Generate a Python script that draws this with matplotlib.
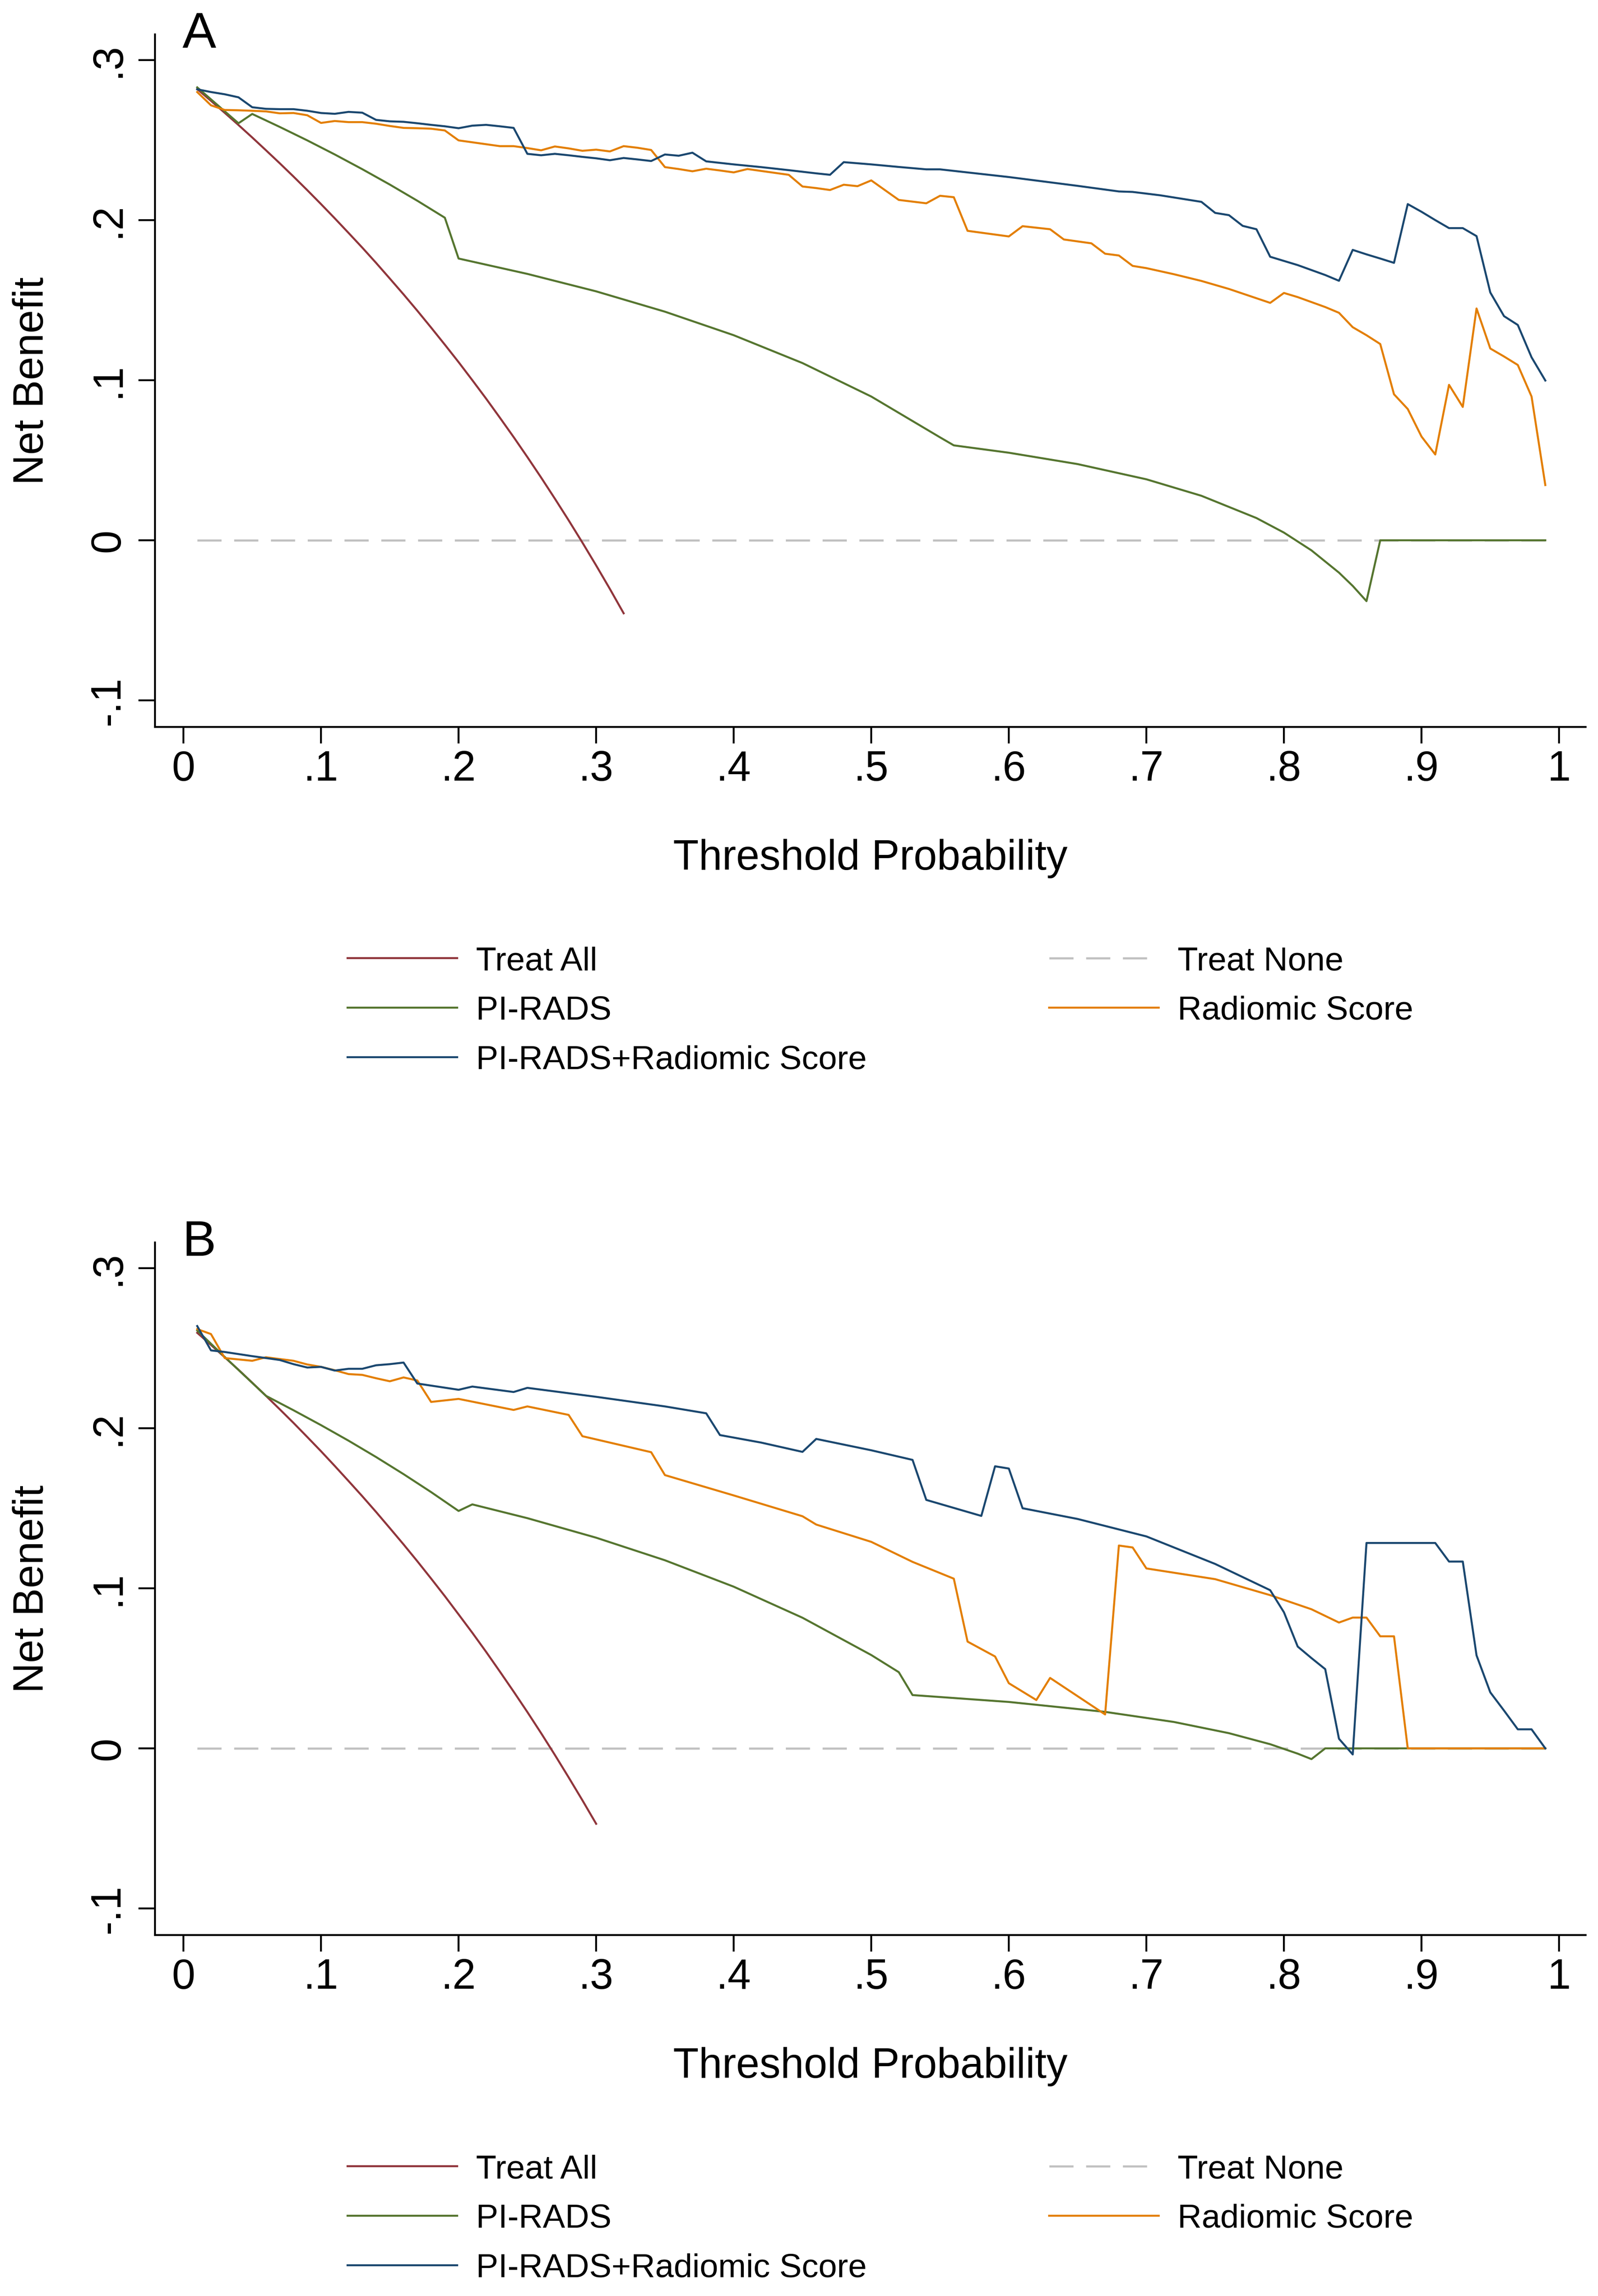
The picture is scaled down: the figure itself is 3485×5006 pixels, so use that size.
import matplotlib
matplotlib.use("Agg")
import matplotlib.pyplot as plt

plt.rcParams['font.family'] = ['Liberation Sans', 'DejaVu Sans']

# ---------------- Panel A data ----------------
a_all_x = [0.01, 0.02, 0.03, 0.04, 0.05, 0.06, 0.07, 0.08, 0.09, 0.10, 0.11, 0.12, 0.13, 0.14, 0.15, 0.16,
           0.17, 0.18, 0.19, 0.20, 0.21, 0.22, 0.23, 0.24, 0.25, 0.26, 0.27, 0.28, 0.29, 0.30, 0.31, 0.32]
a_all_y = [0.2818, 0.2745, 0.2670, 0.2594, 0.2516, 0.2436, 0.2355, 0.2272, 0.2187, 0.2100, 0.2011, 0.1920,
           0.1828, 0.1733, 0.1635, 0.1536, 0.1434, 0.1329, 0.1222, 0.1113, 0.1000, 0.0885, 0.0766, 0.0645,
           0.0520, 0.0392, 0.0260, 0.0125, -0.0014, -0.0157, -0.0304, -0.0456]

none_x = [0.01, 0.99]
none_y = [0.0, 0.0]

a_pi_x = [0.01, 0.04, 0.05, 0.07, 0.09, 0.11, 0.13, 0.15, 0.17, 0.19, 0.20, 0.25, 0.30, 0.35, 0.40, 0.45,
          0.50, 0.55, 0.56, 0.60, 0.65, 0.70, 0.74, 0.78, 0.80, 0.82, 0.84, 0.85, 0.86, 0.87, 0.99]
a_pi_y = [0.2829, 0.2605, 0.2663, 0.2582, 0.2498, 0.2410, 0.2318, 0.2222, 0.2121, 0.2015, 0.1760, 0.1664,
          0.1555, 0.1428, 0.1281, 0.1107, 0.0898, 0.0643, 0.0593, 0.0547, 0.0476, 0.0381, 0.0278, 0.0139,
          0.0048, -0.0063, -0.0202, -0.0285, -0.0380, 0.0, 0.0]

a_rad_x = [0.01, 0.02, 0.03, 0.04, 0.05, 0.06, 0.07, 0.08, 0.09, 0.10, 0.11, 0.12, 0.13, 0.14, 0.15, 0.16,
           0.17, 0.18, 0.19, 0.20, 0.21, 0.22, 0.23, 0.24, 0.25, 0.26, 0.27, 0.28, 0.29, 0.30, 0.31, 0.32,
           0.33, 0.34, 0.35, 0.36, 0.37, 0.38, 0.39, 0.40, 0.41, 0.42, 0.43, 0.44, 0.45, 0.46, 0.47, 0.48,
           0.49, 0.50, 0.52, 0.54, 0.55, 0.56, 0.57, 0.60, 0.61, 0.63, 0.64, 0.66, 0.67, 0.68, 0.69, 0.70,
           0.72, 0.74, 0.76, 0.78, 0.79, 0.80, 0.81, 0.82, 0.83, 0.84, 0.85, 0.86, 0.87, 0.88, 0.89, 0.90,
           0.91, 0.92, 0.93, 0.94, 0.95, 0.96, 0.97, 0.98, 0.99]
a_rad_y = [0.2800, 0.2717, 0.2688, 0.2686, 0.2683, 0.2679, 0.2667, 0.2669, 0.2655, 0.2607, 0.2619, 0.2612,
           0.2612, 0.2602, 0.2588, 0.2576, 0.2574, 0.2571, 0.2560, 0.2498, 0.2486, 0.2474, 0.2462, 0.2462,
           0.2450, 0.2436, 0.2460, 0.2448, 0.2433, 0.2440, 0.2429, 0.2462, 0.2452, 0.2438, 0.2331, 0.2319,
           0.2305, 0.2321, 0.2310, 0.2298, 0.2319, 0.2307, 0.2295, 0.2283, 0.2210, 0.2200, 0.2188, 0.2221,
           0.2212, 0.2248, 0.2126, 0.2105, 0.2152, 0.2143, 0.1933, 0.1898, 0.1962, 0.1943, 0.1879, 0.1855,
           0.1790, 0.1779, 0.1714, 0.1700, 0.1662, 0.1620, 0.1570, 0.1512, 0.1483, 0.1545, 0.1519, 0.1488,
           0.1457, 0.1421, 0.1331, 0.1281, 0.1226, 0.0912, 0.0820, 0.0648, 0.0536, 0.0971, 0.0833, 0.1448,
           0.1198, 0.1148, 0.1095, 0.0898, 0.0345]

a_comb_x = [0.01, 0.02, 0.03, 0.04, 0.05, 0.06, 0.07, 0.08, 0.09, 0.10, 0.11, 0.12, 0.13, 0.14, 0.15, 0.16,
            0.17, 0.18, 0.19, 0.20, 0.21, 0.22, 0.23, 0.24, 0.25, 0.26, 0.27, 0.28, 0.29, 0.30, 0.31, 0.32,
            0.33, 0.34, 0.35, 0.36, 0.37, 0.38, 0.40, 0.42, 0.44, 0.46, 0.47, 0.48, 0.50, 0.52, 0.54, 0.55,
            0.60, 0.65, 0.68, 0.69, 0.71, 0.74, 0.75, 0.76, 0.77, 0.78, 0.79, 0.80, 0.81, 0.82, 0.83, 0.84,
            0.85, 0.86, 0.87, 0.88, 0.89, 0.90, 0.91, 0.92, 0.93, 0.94, 0.95, 0.96, 0.97, 0.98, 0.99]
a_comb_y = [0.2817, 0.2800, 0.2786, 0.2767, 0.2705, 0.2695, 0.2693, 0.2693, 0.2683, 0.2669, 0.2664, 0.2676,
            0.2671, 0.2626, 0.2617, 0.2614, 0.2605, 0.2595, 0.2586, 0.2574, 0.2590, 0.2595, 0.2586, 0.2576,
            0.2414, 0.2405, 0.2414, 0.2405, 0.2395, 0.2386, 0.2374, 0.2388, 0.2379, 0.2369, 0.2410, 0.2402,
            0.2421, 0.2367, 0.2348, 0.2331, 0.2312, 0.2292, 0.2283, 0.2362, 0.2348, 0.2332, 0.2317, 0.2317,
            0.2269, 0.2214, 0.2179, 0.2176, 0.2155, 0.2114, 0.2045, 0.2031, 0.1964, 0.1943, 0.1771, 0.1745,
            0.1719, 0.1688, 0.1657, 0.1621, 0.1814, 0.1786, 0.1760, 0.1733, 0.2100, 0.2052, 0.2000, 0.1950,
            0.1950, 0.1900, 0.1548, 0.1400, 0.1345, 0.1143, 0.0998]

# ---------------- Panel B data ----------------
b_all_x = [0.01, 0.02, 0.03, 0.04, 0.05, 0.06, 0.07, 0.08, 0.09, 0.10, 0.11, 0.12, 0.13, 0.14, 0.15, 0.16,
           0.17, 0.18, 0.19, 0.20, 0.21, 0.22, 0.23, 0.24, 0.25, 0.26, 0.27, 0.28, 0.29, 0.30]
b_all_y = [0.2596, 0.2520, 0.2443, 0.2365, 0.2284, 0.2202, 0.2118, 0.2033, 0.1945, 0.1856, 0.1764, 0.1670,
           0.1575, 0.1477, 0.1376, 0.1274, 0.1169, 0.1061, 0.0951, 0.0837, 0.0722, 0.0603, 0.0480, 0.0355,
           0.0227, 0.0095, -0.0041, -0.0181, -0.0324, -0.0471]

b_pi_x = [0.01, 0.03, 0.06, 0.08, 0.10, 0.12, 0.14, 0.16, 0.18, 0.20, 0.21, 0.25, 0.30, 0.35, 0.40, 0.45,
          0.50, 0.52, 0.53, 0.60, 0.67, 0.72, 0.76, 0.79, 0.81, 0.82, 0.83, 0.99]
b_pi_y = [0.2610, 0.2445, 0.2202, 0.2112, 0.2019, 0.1922, 0.1820, 0.1713, 0.1601, 0.1483, 0.1524, 0.1438,
          0.1316, 0.1175, 0.1010, 0.0816, 0.0583, 0.0476, 0.0333, 0.0290, 0.0228, 0.0165, 0.0095, 0.0026,
          -0.0033, -0.0067, 0.0, 0.0]

b_rad_x = [0.01, 0.02, 0.03, 0.05, 0.06, 0.08, 0.09, 0.10, 0.11, 0.12, 0.13, 0.14, 0.15, 0.16, 0.17, 0.18,
           0.20, 0.24, 0.25, 0.28, 0.29, 0.34, 0.35, 0.40, 0.45, 0.46, 0.50, 0.53, 0.56, 0.57, 0.59, 0.60,
           0.62, 0.63, 0.67, 0.68, 0.69, 0.70, 0.75, 0.79, 0.82, 0.84, 0.85, 0.86, 0.87, 0.88, 0.89, 0.99]
b_rad_y = [0.2619, 0.2588, 0.2438, 0.2421, 0.2443, 0.2421, 0.2398, 0.2383, 0.2362, 0.2338, 0.2333, 0.2312,
           0.2293, 0.2317, 0.2298, 0.2164, 0.2183, 0.2114, 0.2136, 0.2083, 0.1950, 0.1850, 0.1707, 0.1580,
           0.1450, 0.1398, 0.1290, 0.1165, 0.1060, 0.0667, 0.0574, 0.0407, 0.0302, 0.0440, 0.0212, 0.1267,
           0.1255, 0.1124, 0.1057, 0.0957, 0.0869, 0.0786, 0.0817, 0.0817, 0.0700, 0.0700, 0.0, 0.0]

b_comb_x = [0.01, 0.02, 0.03, 0.05, 0.07, 0.08, 0.09, 0.10, 0.11, 0.12, 0.13, 0.14, 0.15, 0.16, 0.17, 0.20,
            0.21, 0.24, 0.25, 0.30, 0.35, 0.38, 0.39, 0.42, 0.45, 0.46, 0.50, 0.53, 0.54, 0.58, 0.59, 0.60,
            0.61, 0.65, 0.70, 0.75, 0.79, 0.80, 0.81, 0.82, 0.83, 0.84, 0.85, 0.86, 0.91, 0.92, 0.93, 0.94,
            0.95, 0.96, 0.97, 0.98, 0.99]
b_comb_y = [0.2638, 0.2486, 0.2476, 0.2450, 0.2426, 0.2400, 0.2379, 0.2383, 0.2360, 0.2371, 0.2371, 0.2393,
            0.2400, 0.2410, 0.2279, 0.2240, 0.2260, 0.2226, 0.2252, 0.2196, 0.2136, 0.2093, 0.1957, 0.1910,
            0.1852, 0.1933, 0.1862, 0.1802, 0.1552, 0.1452, 0.1762, 0.1748, 0.1500, 0.1433, 0.1324, 0.1152,
            0.0988, 0.0850, 0.0636, 0.0564, 0.0495, 0.0060, -0.0038, 0.1283, 0.1283, 0.1167, 0.1167, 0.0581,
            0.0350, 0.0236, 0.0119, 0.0119, 0.0]

series_labels = ["Treat All", "Treat None", "PI-RADS", "Radiomic Score", "PI-RADS+Radiomic Score"]
xtick_vals = [0, 0.1, 0.2, 0.3, 0.4, 0.5, 0.6, 0.7, 0.8, 0.9, 1.0]
xtick_labels = ["0", ".1", ".2", ".3", ".4", ".5", ".6", ".7", ".8", ".9", "1"]
ytick_vals = [-0.1, 0.0, 0.1, 0.2, 0.3]
ytick_labels = ["-.1", "0", ".1", ".2", ".3"]

# ---------------- styling ----------------
C_ALL = "#90353b"
C_NONE = "#c0c0c0"
C_PI = "#55752f"
C_RAD = "#e37e00"
C_COMB = "#1a476f"

W, H = 3485, 5006
DPI = 300
fig = plt.figure(figsize=(W / DPI, H / DPI), dpi=DPI)
fig.patch.set_facecolor("white")

def fx(px):
    return px / W

def fy(py):
    return 1 - py / H

panels = [
    ("A", 0, (a_all_x, a_all_y), (a_pi_x, a_pi_y), (a_rad_x, a_rad_y), (a_comb_x, a_comb_y)),
    ("B", 2634, (b_all_x, b_all_y), (b_pi_x, b_pi_y), (b_rad_x, b_rad_y), (b_comb_x, b_comb_y)),
]

for letter, off, allv, piv, radv, combv in panels:
    top_px = 75 + off
    bot_px = 1585 + off
    ax = fig.add_axes([fx(338), fy(bot_px), fx(3458) - fx(338), fy(top_px) - fy(bot_px)])
    ax.set_facecolor("white")
    lw = 1.05
    h_all, = ax.plot(allv[0], allv[1], color=C_ALL, lw=lw, zorder=2)
    h_none, = ax.plot(none_x, none_y, color=C_NONE, lw=1.1, dashes=(11.5, 6.0), zorder=1)
    h_pi, = ax.plot(piv[0], piv[1], color=C_PI, lw=lw, zorder=3)
    h_rad, = ax.plot(radv[0], radv[1], color=C_RAD, lw=lw, zorder=4)
    h_comb, = ax.plot(combv[0], combv[1], color=C_COMB, lw=lw, zorder=5)

    ax.set_xlim(-0.0207, 1.0193)
    ax.set_ylim(-0.1166, 0.316)
    ax.spines["top"].set_visible(False)
    ax.spines["right"].set_visible(False)
    for s in ("left", "bottom"):
        ax.spines[s].set_linewidth(1.0)
    ax.set_xticks(xtick_vals)
    ax.set_xticklabels(xtick_labels, fontsize=22)
    ax.set_yticks(ytick_vals)
    ax.set_yticklabels(ytick_labels, fontsize=22, rotation=90, va="center")
    ax.tick_params(axis="both", length=8.6, width=1.0, color="black")
    ax.tick_params(axis="x", pad=3.5)
    ax.tick_params(axis="y", pad=5.5)
    ax.set_xlabel("Threshold Probability", fontsize=22)
    ax.xaxis.set_label_coords(0.5, -0.1616)
    ax.set_ylabel("Net Benefit", fontsize=22)
    ax.yaxis.set_label_coords(-0.0721, 0.5)

    fig.text(fx(398), fy(104 + off), letter, fontsize=26.5, ha="left", va="baseline")

    handles = [h_all, h_pi, h_comb, h_none, h_rad]
    labels = [series_labels[0], series_labels[2], series_labels[4], series_labels[1], series_labels[3]]
    fig.legend(handles, labels, loc="upper left", bbox_to_anchor=(fx(758), fy(2063 + off)),
               ncol=2, frameon=False, fontsize=17.5, borderpad=0, borderaxespad=0,
               handlelength=3.28, handletextpad=0.56, columnspacing=5.45, labelspacing=0.56)

fig.savefig("out.png", dpi=DPI, facecolor="white")
